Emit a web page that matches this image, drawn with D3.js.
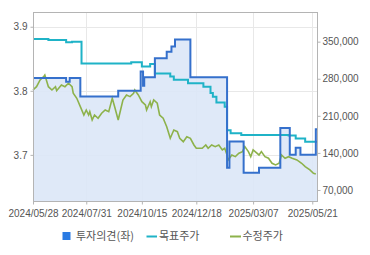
<!DOCTYPE html>
<html>
<head>
<meta charset="utf-8">
<script src="https://cdn.jsdelivr.net/npm/d3@7"></script>
<style>
  body { margin: 0; background: #fff; }
  text { font-family: "Liberation Sans", "Noto Sans CJK KR", sans-serif; fill: #555; }
</style>
</head>
<body>
<div id="chart"></div>
<script>
// x values are trading-day indices from 2024/05/28
const tickDays = [0, 45, 92, 138, 186, 236];
const tickLabels = ["2024/05/28", "2024/07/31", "2024/10/15", "2024/12/18", "2025/03/07", "2025/05/21"];
const lastDay = 240;

// 투자의견 (left axis), step series
const opinionDays = [0, 28, 31, 40, 72, 91, 93, 94, 103, 113, 117, 120, 133, 164, 166, 178, 191, 209, 217, 222, 226, 239, 240];
const opinionVals = [3.82, 3.814, 3.82, 3.791, 3.80, 3.83, 3.808, 3.821, 3.851, 3.861, 3.869, 3.88, 3.821, 3.68, 3.721, 3.672, 3.68, 3.742, 3.70, 3.711, 3.70, 3.74, 3.74];

// 목표주가 (right axis), step series
const targetDays = [0, 13, 28, 33, 41, 83, 92, 99, 103, 116, 119, 131, 144, 150, 152, 155, 162, 164, 167, 176, 216, 222, 230, 240];
const targetVals = [355000, 353000, 349000, 350000, 309000, 311000, 303000, 308000, 290000, 284000, 278000, 271500, 265000, 253000, 246000, 235000, 227000, 183000, 177000, 174000, 173000, 167000, 161000, 161000];

// 수정주가 (right axis)
const priceDays = [0, 3, 6, 9, 10, 13, 16, 19, 20, 24, 27, 30, 33, 34, 37, 40, 43, 45, 47, 48, 50, 52, 55, 58, 61, 64, 67, 69, 72, 74, 76, 79, 82, 85, 86, 89, 92, 95, 96, 99, 100, 102, 105, 107, 110, 113, 116, 119, 122, 124, 127, 130, 133, 136, 138, 140, 143, 146, 148, 151, 154, 157, 160, 162, 164, 165, 168, 171, 174, 177, 179, 182, 184, 186, 191, 193, 196, 199, 202, 205, 208, 210, 213, 216, 219, 223, 227, 230, 234, 237, 239];
const priceVals = [259000, 265000, 277700, 283900, 287100, 265000, 258800, 265000, 257500, 268300, 265000, 271500, 265000, 252600, 243100, 227300, 211600, 221000, 211600, 217800, 202200, 211600, 205400, 214800, 221000, 217800, 243100, 227300, 202200, 221000, 239900, 249400, 246200, 252600, 258800, 249400, 236700, 230500, 221000, 236700, 227300, 239900, 233700, 211600, 205400, 189500, 167600, 183300, 180100, 167600, 161200, 170600, 167600, 155000, 148700, 148700, 148700, 155000, 148700, 155000, 151800, 155000, 145600, 148700, 136100, 126700, 136100, 132900, 139300, 142400, 151800, 142400, 132900, 145600, 136100, 142400, 132900, 129900, 120400, 117200, 120400, 136100, 129900, 132900, 129900, 126700, 120400, 114000, 107800, 101500, 100200];

const leftTicks = [3.7, 3.8, 3.9];
const rightTicks = [70000, 140000, 210000, 280000, 350000];

const width = 370, height = 255;
const margin = {top: 12, right: 53, bottom: 54, left: 33};

const svg = d3.select("#chart").append("svg")
  .attr("width", width)
  .attr("height", height);

const x = d3.scaleLinear()
  .domain([0, lastDay])
  .range([margin.left, width - margin.right]);

const yL = d3.scaleLinear()
  .domain([3.628, 3.923])
  .range([height - margin.bottom, margin.top]);

const yR = d3.scaleLinear()
  .domain([49200, 406000])
  .range([height - margin.bottom, margin.top]);

const x0 = margin.left, x1 = width - margin.right;
const yTop = margin.top, yBot = height - margin.bottom;

// grid
svg.append("g").selectAll("line")
  .data(leftTicks)
  .enter().append("line")
  .attr("x1", x0).attr("x2", x1)
  .attr("y1", d => Math.round(yL(d)) + 0.5)
  .attr("y2", d => Math.round(yL(d)) + 0.5)
  .attr("stroke", "#e8e8e8");

svg.append("g").selectAll("line")
  .data(tickDays)
  .enter().append("line")
  .attr("x1", d => Math.round(x(d)) + 0.5)
  .attr("x2", d => Math.round(x(d)) + 0.5)
  .attr("y1", yTop).attr("y2", yBot)
  .attr("stroke", "#e8e8e8");

const opinion = opinionDays.map((d, i) => ({d, v: opinionVals[i]}));
const target = targetDays.map((d, i) => ({d, v: targetVals[i]}));
const price = priceDays.map((d, i) => ({d, v: priceVals[i]}));

// opinion area + line
svg.append("path")
  .datum(opinion)
  .attr("fill", "#dce7f7")
  .attr("fill-opacity", 0.9)
  .attr("d", d3.area().curve(d3.curveStepAfter)
    .x(d => x(d.d)).y0(yBot).y1(d => yL(d.v)));

svg.append("path")
  .datum(price)
  .attr("fill", "none")
  .attr("stroke", "#8db24b")
  .attr("stroke-width", 1.6)
  .attr("d", d3.line().x(d => x(d.d)).y(d => yR(d.v)));

svg.append("path")
  .datum(target)
  .attr("fill", "none")
  .attr("stroke", "#1fb3c7")
  .attr("stroke-width", 2)
  .attr("d", d3.line().curve(d3.curveStepAfter).x(d => x(d.d)).y(d => yR(d.v)));

svg.append("path")
  .datum(opinion)
  .attr("fill", "none")
  .attr("stroke", "#3570cc")
  .attr("stroke-width", 2)
  .attr("d", d3.line().curve(d3.curveStepAfter).x(d => x(d.d)).y(d => yL(d.v)));

// frame
svg.append("rect")
  .attr("x", x0 + 0.5).attr("y", yTop + 0.5)
  .attr("width", x1 - x0).attr("height", yBot - yTop)
  .attr("fill", "none")
  .attr("stroke", "#b4b4b4");

// axes
const axisLeft = svg.append("g")
  .attr("transform", `translate(${x0 + 0.5},0)`)
  .call(d3.axisLeft(yL).tickValues(leftTicks).tickSize(3).tickPadding(3).tickFormat(d3.format(".1f")));

const axisRight = svg.append("g")
  .attr("transform", `translate(${x1 + 0.5},0)`)
  .call(d3.axisRight(yR).tickValues(rightTicks).tickSize(3).tickPadding(2).tickFormat(d3.format(",")));

const axisBottom = svg.append("g")
  .attr("transform", `translate(0,${yBot + 0.5})`)
  .call(d3.axisBottom(x).tickValues(tickDays).tickSize(3).tickPadding(5).tickFormat((d, i) => tickLabels[i]));

[axisLeft, axisRight, axisBottom].forEach(g => {
  g.select(".domain").remove();
  g.selectAll("line").attr("stroke", "#b4b4b4");
  g.selectAll("text").style("font-size", "10px").attr("fill", "#555")
    .style("font-family", "'Liberation Sans', sans-serif");
});

// legend
const legend = svg.append("g").attr("transform", "translate(0,236)");

legend.append("rect")
  .attr("x", 62.5).attr("y", -4).attr("width", 8).attr("height", 8)
  .attr("fill", "#2a7be3");
legend.append("text")
  .attr("x", 76).attr("y", 4)
  .style("font-size", "11px")
  .style("font-family", "'Noto Sans CJK KR', sans-serif")
  .text("투자의견(좌)");

legend.append("line")
  .attr("x1", 146.5).attr("x2", 157).attr("y1", 0.5).attr("y2", 0.5)
  .attr("stroke", "#1fb3c7").attr("stroke-width", 2);
legend.append("text")
  .attr("x", 159).attr("y", 4)
  .style("font-size", "11px")
  .style("font-family", "'Noto Sans CJK KR', sans-serif")
  .text("목표주가");

legend.append("line")
  .attr("x1", 230).attr("x2", 241).attr("y1", 0.5).attr("y2", 0.5)
  .attr("stroke", "#8db24b").attr("stroke-width", 2);
legend.append("text")
  .attr("x", 242.5).attr("y", 4)
  .style("font-size", "11px")
  .style("font-family", "'Noto Sans CJK KR', sans-serif")
  .text("수정주가");
</script>
</body>
</html>
